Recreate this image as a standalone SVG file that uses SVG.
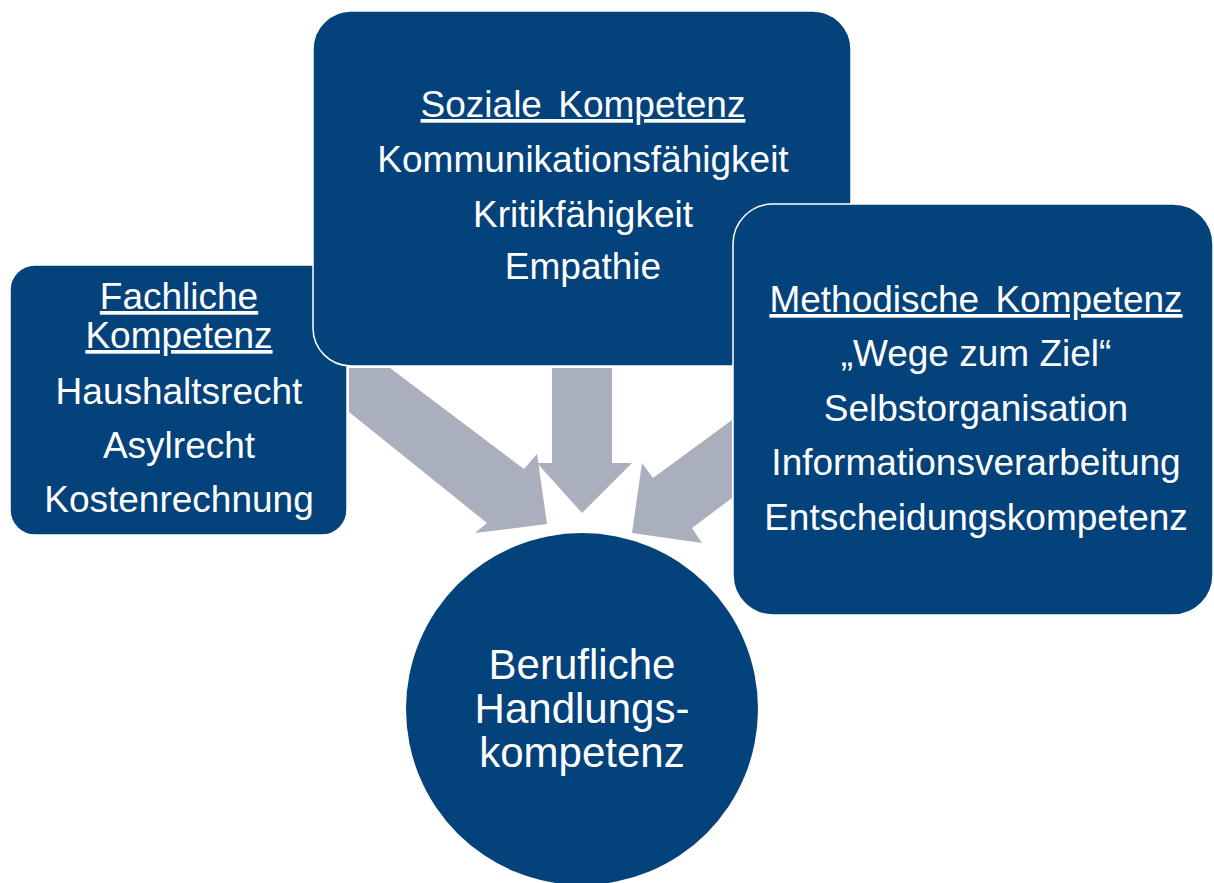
<svg xmlns="http://www.w3.org/2000/svg" width="1214" height="883" viewBox="0 0 1214 883">
<style>
.box{fill:#03427A;stroke:#ffffff;stroke-width:1.5}
.arrow{fill:#A9AFBD}
.t{font-family:"Liberation Sans",Arial,sans-serif;font-size:37px;fill:#ffffff;text-anchor:middle}
.u{text-decoration:underline}
.c{font-size:42px}
</style>
<rect width="1214" height="883" fill="#ffffff"/>
<g id="connectors">
<polygon class="arrow" points="349,368 390,368 524,469 537,454 547,524 475,533 487,523 349,412"/>
<polygon class="arrow" points="552,368 612,368 612,463 632,463 582,513 537,463 552,463"/>
<polygon class="arrow" points="732,420 653,478 642,463 632,533 702,543 692,528 732,498"/>
</g>
<g id="fachliche">
<rect class="box" x="10" y="265" width="337" height="270" rx="25"/>
<text class="t u" x="179" y="309">Fachliche</text>
<text class="t u" x="179" y="348">Kompetenz</text>
<text class="t" x="179" y="404">Haushaltsrecht</text>
<text class="t" x="179" y="458">Asylrecht</text>
<text class="t" x="179" y="512">Kostenrechnung</text>
</g>
<g id="soziale">
<rect class="box" x="313" y="11" width="538" height="355" rx="38"/>
<text class="t u" x="583" y="117" word-spacing="6">Soziale Kompetenz</text>
<text class="t" x="583" y="172">Kommunikationsfähigkeit</text>
<text class="t" x="583" y="227">Kritikfähigkeit</text>
<text class="t" x="583" y="279">Empathie</text>
</g>
<g id="methodische">
<rect class="box" x="733" y="204" width="480" height="411" rx="40"/>
<text class="t u" x="976" y="312" word-spacing="6">Methodische Kompetenz</text>
<text class="t" x="976" y="366">„Wege zum Ziel“</text>
<text class="t" x="976" y="421">Selbstorganisation</text>
<text class="t" x="976" y="475">Informationsverarbeitung</text>
<text class="t" x="976" y="530">Entscheidungskompetenz</text>
</g>
<g id="berufliche">
<circle cx="582" cy="709" r="176" fill="#03427A"/>
<text class="t c" x="582" y="679">Berufliche</text>
<text class="t c" x="582" y="723">Handlungs-</text>
<text class="t c" x="582" y="767">kompetenz</text>
</g>
</svg>
